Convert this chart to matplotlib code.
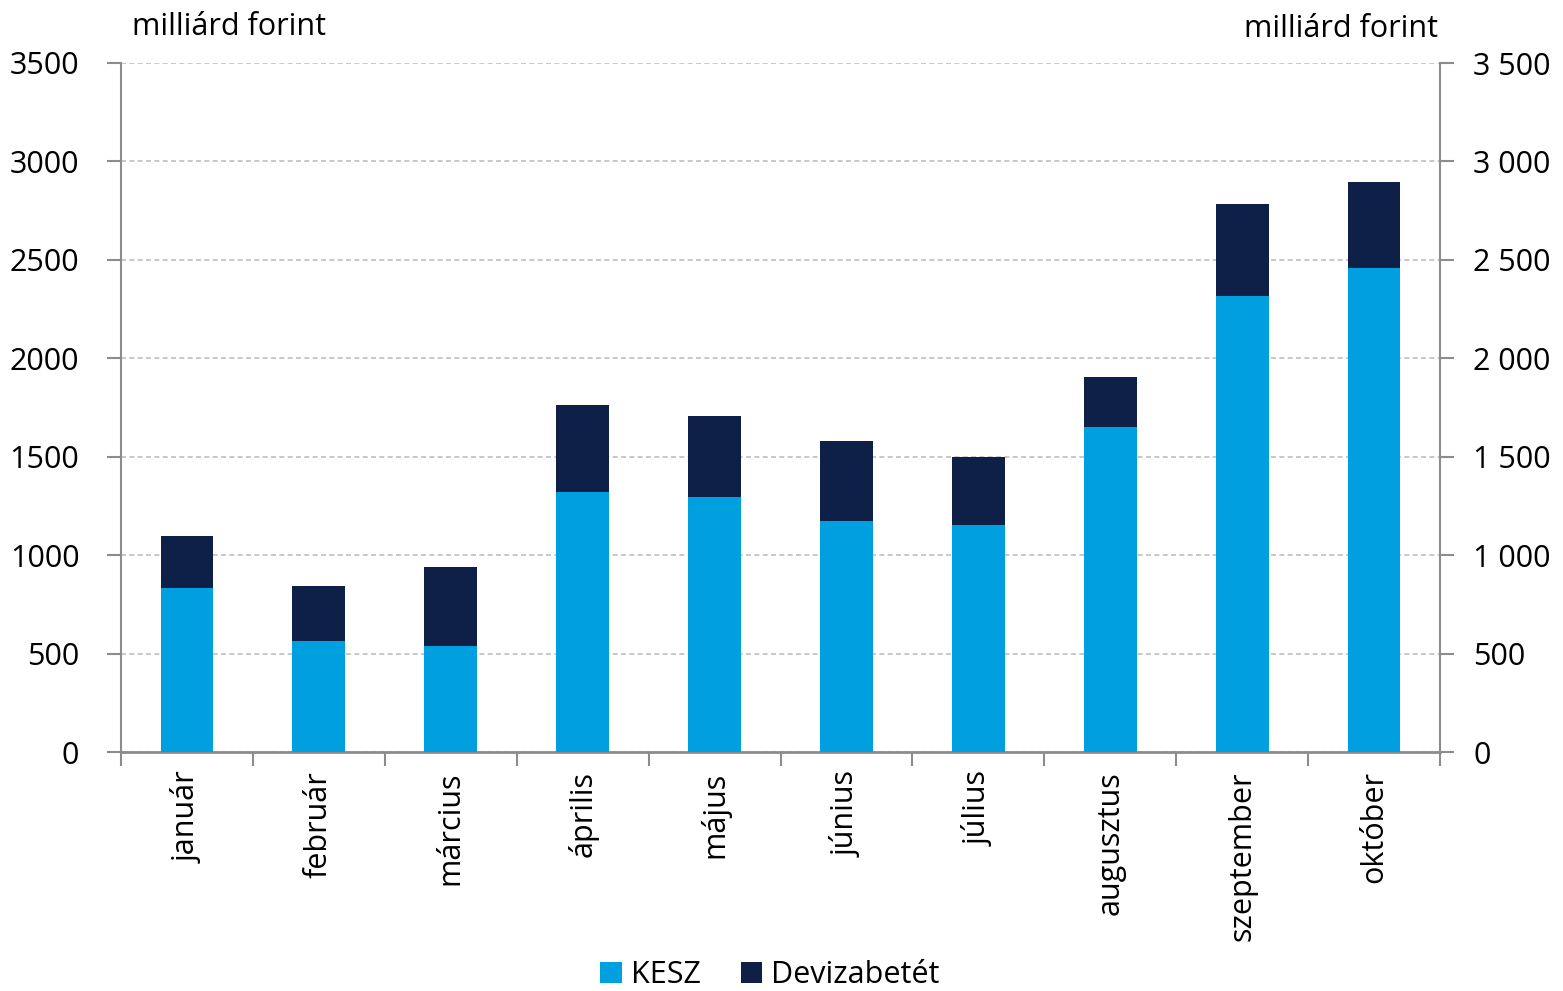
import matplotlib
matplotlib.use("Agg")
import matplotlib.pyplot as plt
from matplotlib.ticker import FuncFormatter, FixedLocator
import numpy as np

plt.rcParams['font.family'] = ['Open Sans', 'DejaVu Sans']

months = ['január', 'február', 'március', 'április', 'május',
          'június', 'július', 'augusztus', 'szeptember', 'október']
kesz = [833, 564, 538, 1321, 1295, 1173, 1153, 1651, 2317, 2459]
total = [1097, 843, 940, 1763, 1707, 1580, 1499, 1905, 2784, 2896]
deviza = [t - k for t, k in zip(total, kesz)]

c_kesz = '#009FE0'
c_deviza = '#0E2047'
grey = '#8C8C8C'

fig = plt.figure(figsize=(15.63, 9.91), dpi=100)
ax = fig.add_axes([121 / 1563, (991 - 752) / 991, (1440 - 121) / 1563, (752 - 63) / 991])

x = np.arange(len(months))
ax.bar(x, kesz, width=0.4, color=c_kesz, label='KESZ', zorder=3)
ax.bar(x, deviza, width=0.4, bottom=kesz, color=c_deviza, label='Devizabetét', zorder=3)

ax.set_xlim(-0.5, len(months) - 0.5)
ax.set_ylim(0, 3500)
ax.set_yticks(np.arange(0, 3501, 500))
ax.yaxis.grid(True, color='#BFBFBF', linestyle=(0, (3, 2)), linewidth=1.2, zorder=0)

for side in ['top', 'right']:
    ax.spines[side].set_visible(False)
ax.spines['left'].set_color(grey)
ax.spines['bottom'].set_color(grey)
ax.spines['left'].set_linewidth(1.5)
ax.spines['bottom'].set_linewidth(2)

# month labels in the middle, tick marks on the boundaries
ax.set_xticks(x)
ax.set_xticklabels(months, rotation=90, fontsize=22)
ax.tick_params(axis='x', which='major', length=0, pad=14)
ax.xaxis.set_minor_locator(FixedLocator(np.arange(-0.5, len(months), 1)))
ax.tick_params(axis='x', which='minor', length=10, width=1.5, color=grey)
ax.tick_params(axis='y', length=10, width=1.5, color=grey, labelsize=22, pad=20)

ax2 = ax.twinx()
ax2.set_position(ax.get_position())
ax2.set_ylim(0, 3500)
ax2.set_yticks(np.arange(0, 3501, 500))
ax2.yaxis.set_major_formatter(FuncFormatter(lambda v, p: f'{int(v):,}'.replace(',', ' ')))
for side in ['top', 'left', 'bottom']:
    ax2.spines[side].set_visible(False)
ax2.spines['right'].set_color(grey)
ax2.spines['right'].set_linewidth(1.5)
ax2.tick_params(axis='y', length=10, width=1.5, color=grey, labelsize=22, pad=14)

fig.text(132 / 1563, 1 - 27 / 991, 'milliárd forint', fontsize=22, ha='left', va='center')
fig.text(1438 / 1563, 1 - 29 / 991, 'milliárd forint', fontsize=22, ha='right', va='center')

ax.legend(loc='center', bbox_to_anchor=(770 / 1563, 1 - 975 / 991), bbox_transform=fig.transFigure,
          ncol=2, frameon=False, fontsize=22, handlelength=0.7, handleheight=0.7,
          handletextpad=0.3, columnspacing=1.3)

fig.savefig('out.png', dpi=100)
